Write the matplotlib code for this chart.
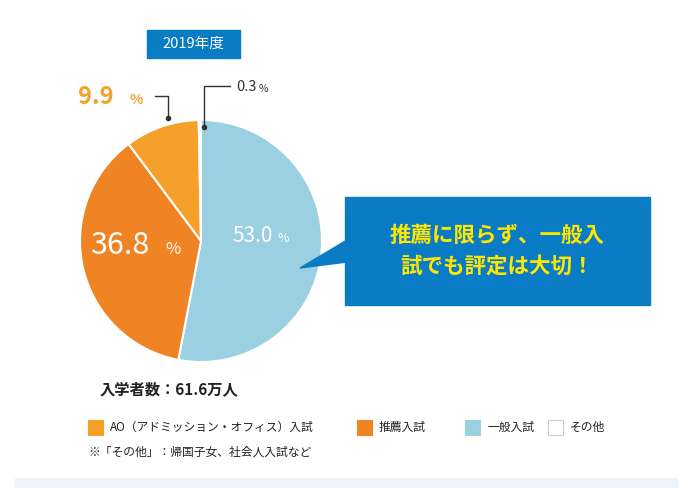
import matplotlib
matplotlib.use("Agg")
import matplotlib.pyplot as plt
from matplotlib.patches import Rectangle, Polygon

plt.rcParams["font.family"] = ["Noto Sans CJK JP", "DejaVu Sans"]

categories = ["一般入試", "推薦入試", "AO（アドミッション・オフィス）入試", "その他"]
values = [53.0, 36.8, 9.9, 0.3]
colors = ["#9bcfe2", "#f08323", "#f5a02b", "#ffffff"]
legend_order = [2, 1, 0, 3]

W, H = 690, 488
fig = plt.figure(figsize=(W / 100, H / 100), dpi=100)
ax = fig.add_axes([0, 0, 1, 1])
ax.set_xlim(0, W)
ax.set_ylim(0, H)
ax.axis("off")

def Y(y):
    return H - y

cx, cy, r = 201, 241, 121
ax.pie(values, colors=colors, startangle=90, counterclock=False,
       center=(cx, Y(cy)), radius=r, frame=True,
       wedgeprops=dict(edgecolor="white", linewidth=1.5))
ax.set_xlim(0, W)
ax.set_ylim(0, H)
ax.axis("off")

# title tag
ax.add_patch(Rectangle((147, Y(58)), 93, 28, color="#0a7cc6"))
ax.text(193, Y(44), "2019年度", color="white", fontsize=10.5, ha="center", va="center")

# slice labels
ax.text(232, Y(236), f"{values[0]:.1f}", color="white", fontsize=15, va="center")
ax.text(278, Y(238), "%", color="white", fontsize=9, va="center")
ax.text(90, Y(246), f"{values[1]:.1f}", color="white", fontsize=22, va="center")
ax.text(165, Y(250), "%", color="white", fontsize=12, va="center")
ax.text(78, Y(97), f"{values[2]:.1f}", color="#f5a02b", fontsize=17, fontweight="bold", va="center")
ax.text(129, Y(100), "%", color="#f5a02b", fontsize=10, fontweight="bold", va="center")
ax.text(236, Y(87), f"{values[3]:.1f}", color="#333333", fontsize=10.5, va="center")
ax.text(259, Y(89), "%", color="#333333", fontsize=7.5, va="center")

# leader lines
ax.plot([155, 168, 168], [Y(96), Y(96), Y(118)], color="#333333", lw=1)
ax.plot([168], [Y(118)], "o", color="#333333", ms=3)
ax.plot([230, 204, 204], [Y(86), Y(86), Y(127)], color="#333333", lw=1)
ax.plot([204], [Y(127)], "o", color="#333333", ms=3)

# callout
ax.add_patch(Rectangle((345, Y(305)), 305, 108, color="#0a7cc6"))
ax.add_patch(Polygon([(347, Y(240)), (347, Y(262)), (300, Y(268))], color="#0a7cc6"))
ax.text(497, Y(251), "推薦に限らず、一般入\n試でも評定は大切！", color="#ffe600",
        fontsize=15.5, fontweight="bold", ha="center", va="center", linespacing=1.6)

ax.text(100, Y(389), "入学者数：61.6万人", color="#222222", fontsize=11, fontweight="bold", va="center")

# legend
lx = [88, 357, 465, 548]
for i, x in zip(legend_order, lx):
    ax.add_patch(Rectangle((x, Y(435)), 15, 15, facecolor=colors[i], edgecolor="#cccccc" if i == 3 else colors[i], lw=0.8))
    ax.text(x + 22, Y(427), categories[i], fontsize=8.5, color="#222222", va="center")
ax.text(88, Y(452), "※「その他」：帰国子女、社会人入試など", fontsize=8.5, color="#222222", va="center")

ax.add_patch(Rectangle((15, 0), 662, 10, color="#eef4f8"))

fig.savefig("out.png", dpi=100)
